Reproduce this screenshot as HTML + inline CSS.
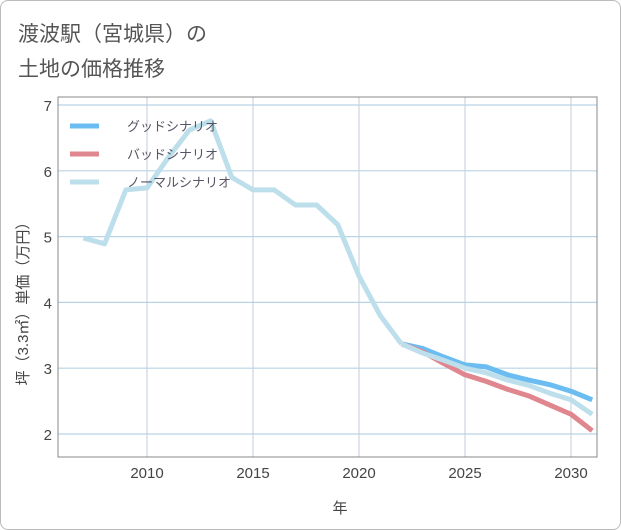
<!DOCTYPE html>
<html><head><meta charset="utf-8"><style>
body{margin:0;background:#fff;font-family:"Liberation Sans","Noto Sans CJK JP",sans-serif}
#card{position:absolute;left:0;top:0;width:619px;height:528px;border:1px solid #bbb;border-radius:8px;background:#fff}
</style></head><body>
<div id="card">
<svg width="621" height="530" style="position:absolute;left:-1px;top:-1px">
<text x="18" y="41" font-size="21" fill="#555">渡波駅（宮城県）の</text>
<text x="18" y="76" font-size="21" fill="#555">土地の価格推移</text>
<g id="grid"></g>
<rect x="58" y="97" width="539" height="360" fill="none" stroke="#888" stroke-width="1"/>
<g id="series"></g>
<g id="legend"></g>
<text x="340" y="513" font-size="15" fill="#444" text-anchor="middle">年</text>
<text transform="translate(28,300) rotate(-90)" font-size="15" fill="#444" text-anchor="middle">坪（3.3㎡）単価（万円）</text>
</svg>
</div>
<script>
const years=[2007,2008,2009,2010,2011,2012,2013,2014,2015,2016,2017,2018,2019,2020,2021,2022];
const normalHist=[4.98,4.89,5.71,5.74,6.2,6.62,6.76,5.9,5.71,5.71,5.48,5.48,5.18,4.4,3.8,3.37];
const futYears=[2022,2023,2024,2025,2026,2027,2028,2029,2030,2031];
const good=[3.37,3.3,3.17,3.05,3.02,2.9,2.82,2.75,2.65,2.52];
const bad=[3.37,3.25,3.07,2.9,2.8,2.68,2.58,2.44,2.3,2.05];
const normalFut=[3.37,3.23,3.12,3.0,2.93,2.82,2.74,2.62,2.52,2.3];
const xTicks=[2010,2015,2020,2025,2030];
const yTicks=[2,3,4,5,6,7];
const NS="http://www.w3.org/2000/svg";
const X=v=>147+(v-2010)*21.2;
const Y=v=>105+(7-v)*65.8;
function mk(t,a,p){const e=document.createElementNS(NS,t);for(const k in a)e.setAttribute(k,a[k]);p.appendChild(e);return e;}
const grid=document.getElementById('grid');
xTicks.forEach(t=>{
 const l=mk('line',{x1:X(t),x2:X(t),y1:97,y2:457,stroke:'#d5dde6','stroke-width':1.5},grid);
 
 
 const tx=mk('text',{x:X(t),y:478,'font-size':15,fill:'#444','text-anchor':'middle'},grid);
 tx.textContent=t;
 
 
});
yTicks.forEach(t=>{
 const l=mk('line',{x1:58,x2:597,y1:Y(t),y2:Y(t),stroke:'#b9d3e6','stroke-width':1.2},grid);
 
 
 const tx=mk('text',{x:52,y:Y(t)+6,'font-size':15,fill:'#444','text-anchor':'end'},grid);
 tx.textContent=t;
 
 
});
const ser=document.getElementById('series');
function line(xs,ys,c,name){
 const p=mk('polyline',{points:xs.map((x,i)=>X(x)+','+Y(ys[i])).join(' '),fill:'none',stroke:c,'stroke-width':5,'stroke-linejoin':'round'},ser);
 
 
}
line(futYears,good,'#6bbcf0','good-scenario-line');
line(futYears,bad,'#e0868e','bad-scenario-line');
line(years,normalHist,'#bddfeb','normal-history-line');
line(futYears,normalFut,'#bddfeb','normal-scenario-line');
const leg=document.getElementById('legend');
[['グッドシナリオ','#6bbcf0'],['バッドシナリオ','#e0868e'],['ノーマルシナリオ','#bddfeb']].forEach((d,i)=>{
 const y=126+i*28;
 const l=mk('line',{x1:70,x2:99,y1:y,y2:y,stroke:d[1],'stroke-width':5},leg);
 
 
 const t=mk('text',{x:127,y:y+5,'font-size':13,fill:'#556'},leg);
 t.textContent=d[0];
 
 
});
</script>
</body></html>
